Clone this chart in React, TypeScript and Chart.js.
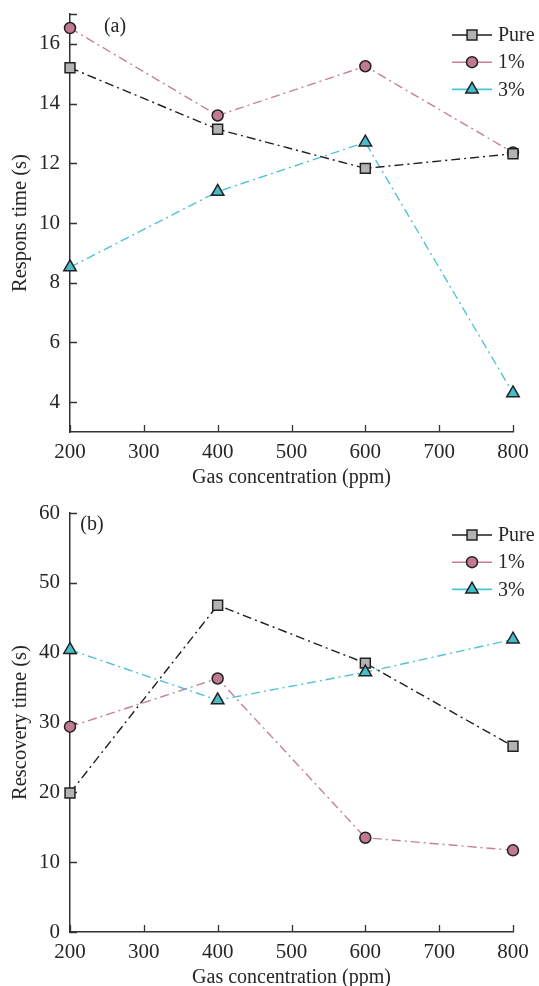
import React, { useEffect, useRef } from "react";
import { Chart, registerables } from "chart.js";
Chart.register(...registerables);

const concentrations = [200, 400, 600, 800];
const seriesLabels = ["Pure", "1%", "3%"];
const responsePure = [15.2, 13.14, 11.83, 12.32];
const response1 = [16.53, 13.6, 15.25, 12.36];
const response3 = [8.52, 11.05, 12.7, 4.3];
const recoveryPure = [19.9, 46.8, 38.5, 26.6];
const recovery1 = [29.4, 36.3, 13.5, 11.7];
const recovery3 = [40.4, 33.2, 37.2, 41.9];
const xTicks = [200, 300, 400, 500, 600, 700, 800];
const responseTicks = [4, 6, 8, 10, 12, 14, 16];
const recoveryTicks = [0, 10, 20, 30, 40, 50, 60];

const FONT = "'Liberation Serif', 'Times New Roman', serif";
const TEXT = "#262626";
const AXIS = "#333333";

const styles = [
  { line: "#1e1e1e", fill: "#b3b3b3", point: "rect", radius: 7 },
  { line: "#c67f98", fill: "#c27a93", point: "circle", radius: 5.5 },
  { line: "#4fc4d5", fill: "#47bccb", point: "triangle", radius: 7.2 },
];

function drawMarker(ctx: CanvasRenderingContext2D, style: string, x: number, y: number, r: number) {
  ctx.beginPath();
  if (style === "circle") {
    ctx.arc(x, y, r, 0, Math.PI * 2);
  } else if (style === "rect") {
    const s = r * Math.SQRT1_2;
    ctx.rect(x - s, y - s, 2 * s, 2 * s);
  } else {
    ctx.moveTo(x, y - r);
    ctx.lineTo(x + r * Math.sin((2 * Math.PI) / 3), y - r * Math.cos((2 * Math.PI) / 3));
    ctx.lineTo(x + r * Math.sin((4 * Math.PI) / 3), y - r * Math.cos((4 * Math.PI) / 3));
    ctx.closePath();
  }
  ctx.fill();
  ctx.stroke();
}

const decoPlugin = {
  id: "deco",
  beforeDatasetsDraw(chart: any, _args: any, opts: any) {
    const ctx = chart.ctx as CanvasRenderingContext2D;
    const xs = chart.scales.x;
    const ys = chart.scales.y;
    const area = chart.chartArea;
    ctx.save();
    ctx.strokeStyle = AXIS;
    ctx.lineWidth = 1.3;
    ctx.beginPath();
    for (const v of opts.xMarks) {
      const px = Math.round(xs.getPixelForValue(v)) + 0.5;
      ctx.moveTo(px, area.bottom);
      ctx.lineTo(px, area.bottom - 7);
    }
    for (const v of opts.yMarks) {
      const py = Math.round(ys.getPixelForValue(v)) + 0.5;
      ctx.moveTo(area.left, py);
      ctx.lineTo(area.left + 7, py);
    }
    ctx.stroke();
    ctx.restore();
  },
  afterDraw(chart: any, _args: any, opts: any) {
    const ctx = chart.ctx as CanvasRenderingContext2D;
    ctx.save();
    ctx.font = `20px ${FONT}`;
    ctx.fillStyle = TEXT;
    ctx.textAlign = "center";
    ctx.textBaseline = "middle";
    ctx.fillText(opts.panel, opts.panelX, opts.panelY);
    chart.data.datasets.forEach((ds: any, i: number) => {
      const st = styles[i];
      const y = opts.legendY + i * 27.2;
      ctx.strokeStyle = ds.borderColor;
      ctx.lineWidth = 1.6;
      ctx.setLineDash([]);
      ctx.beginPath();
      ctx.moveTo(452, y);
      ctx.lineTo(492, y);
      ctx.stroke();
      ctx.fillStyle = st.fill;
      ctx.strokeStyle = "#222";
      ctx.lineWidth = 1.5;
      drawMarker(ctx, st.point, 472, y, st.radius);
      ctx.fillStyle = TEXT;
      ctx.textAlign = "left";
      ctx.fillText(ds.label, 498, y + 1);
    });
    ctx.restore();
  },
};

function makeDatasets(series: number[][], orders: number[]) {
  return series.map((vals, i) => ({
    label: seriesLabels[i],
    data: concentrations.map((x, j) => ({ x, y: vals[j] })),
    borderColor: styles[i].line,
    borderWidth: 1.4,
    borderDash: [9, 4, 2, 4],
    pointStyle: styles[i].point,
    pointRadius: styles[i].radius,
    pointHoverRadius: styles[i].radius,
    pointBackgroundColor: styles[i].fill,
    pointBorderColor: "#222",
    pointBorderWidth: 1.5,
    tension: 0,
    clip: false,
    order: orders[i],
  }));
}

function makeConfig(
  series: number[][],
  orders: number[],
  yMin: number,
  yMax: number,
  yTickVals: number[],
  yMarks: number[],
  yTitle: string,
  topPad: number,
  panel: string,
  panelX: number,
  panelY: number
): any {
  return {
    type: "line",
    data: { datasets: makeDatasets(series, orders) },
    plugins: [decoPlugin],
    options: {
      animation: false,
      responsive: false,
      events: [],
      layout: { padding: { top: topPad, right: 26, left: 0, bottom: 0 } },
      plugins: {
        legend: { display: false },
        tooltip: { enabled: false },
        deco: { xMarks: xTicks, yMarks, panel, panelX, panelY, legendY: 35 },
      },
      scales: {
        x: {
          type: "linear",
          min: 200,
          max: 800,
          afterBuildTicks: (s: any) => {
            s.ticks = xTicks.map((v) => ({ value: v }));
          },
          afterFit: (s: any) => {
            s.height = 68;
            s.paddingLeft = 0;
            s.paddingRight = 0;
          },
          grid: { display: true, drawOnChartArea: false, drawTicks: false },
          border: { display: true, color: AXIS, width: 1.5 },
          ticks: { color: TEXT, font: { family: FONT, size: 21 }, padding: 8, autoSkip: false, maxRotation: 0 },
          title: {
            display: true,
            text: "Gas concentration (ppm)",
            color: TEXT,
            font: { family: FONT, size: 20 },
            padding: { top: 0, bottom: 10 },
          },
        },
        y: {
          type: "linear",
          min: yMin,
          max: yMax,
          afterBuildTicks: (s: any) => {
            s.ticks = yTickVals.map((v) => ({ value: v }));
          },
          afterFit: (s: any) => {
            s.width = 70;
            s.paddingTop = 0;
            s.paddingBottom = 0;
          },
          grid: { display: true, drawOnChartArea: false, drawTicks: false },
          border: { display: true, color: AXIS, width: 1.5 },
          ticks: { color: TEXT, font: { family: FONT, size: 21 }, padding: 10 },
          title: {
            display: true,
            text: yTitle,
            color: TEXT,
            font: { family: FONT, size: 20.5 },
            padding: { top: 8, bottom: 0 },
          },
        },
      },
    },
  };
}

export default function App() {
  const refA = useRef<HTMLCanvasElement>(null);
  const refB = useRef<HTMLCanvasElement>(null);
  useEffect(() => {
    const a = new Chart(
      refA.current as HTMLCanvasElement,
      makeConfig(
        [responsePure, response1, response3],
        [0, 1, 2],
        3,
        17,
        responseTicks,
        [...responseTicks, 17],
        "Respons time (s)",
        14,
        "(a)",
        115,
        27
      )
    );
    const b = new Chart(
      refB.current as HTMLCanvasElement,
      makeConfig(
        [recoveryPure, recovery1, recovery3],
        [1, 2, 0],
        0,
        60,
        recoveryTicks,
        recoveryTicks,
        "Rescovery time (s)",
        13,
        "(b)",
        92,
        25
      )
    );
    return () => {
      a.destroy();
      b.destroy();
    };
  }, []);
  return (
    <div
      style={{
        position: "fixed",
        left: 0,
        top: 0,
        width: 539,
        height: 986,
        overflow: "hidden",
        background: "#fff",
      }}
    >
      <canvas
        ref={refA}
        width={539}
        height={500}
        style={{ position: "absolute", left: 0, top: 0, width: 539, height: 500 }}
      />
      <canvas
        ref={refB}
        width={539}
        height={500}
        style={{ position: "absolute", left: 0, top: 500, width: 539, height: 500 }}
      />
    </div>
  );
}
